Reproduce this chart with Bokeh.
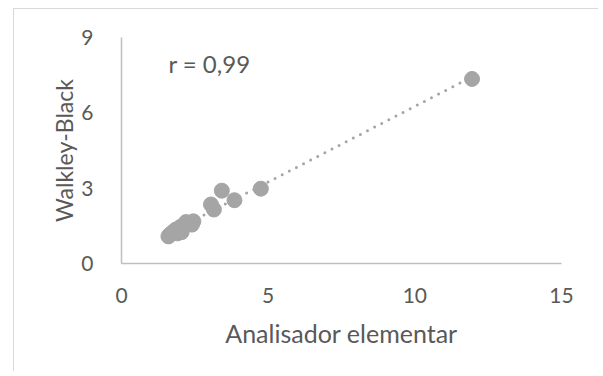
import numpy as np
from bokeh.plotting import figure
from bokeh.models import Range1d, FixedTicker, Label
from bokeh.embed import file_html
from bokeh.resources import INLINE

# Data (Analisador elementar vs Walkley-Black)
analisador = [1.6, 1.65, 1.75, 1.85, 1.9, 2.0, 2.05, 2.2, 2.4, 2.45, 3.05, 3.15, 3.42, 3.85, 4.75, 11.95]
walkley = [1.08, 1.15, 1.25, 1.35, 1.2, 1.45, 1.25, 1.65, 1.55, 1.68, 2.35, 2.15, 2.9, 2.52, 2.98, 7.35]
x_ticks = [0, 5, 10, 15]
y_ticks = [0, 3, 6, 9]
r_text = "r = 0,99"

GREY = "#A5A5A5"
TXT = "#595959"
FONT = "Lato"

p = figure(width=585, height=363, output_backend="svg", toolbar_location=None,
           x_range=Range1d(0, 15), y_range=Range1d(0, 9),
           min_border_left=107, min_border_right=38, min_border_top=28, min_border_bottom=109)
p.styles = {"margin-left": "13px", "margin-top": "8px",
            "border-left": "1px solid #D9D9D9", "border-top": "1px solid #D9D9D9"}
p.outline_line_color = None
p.grid.visible = False

# trend line from least-squares fit
coef = np.polyfit(analisador, walkley, 1)
xs = np.array([min(analisador), max(analisador)])
p.line(xs, np.polyval(coef, xs), line_color=GREY, line_width=3, line_dash="0 8", line_cap="round")

p.scatter(analisador, walkley, size=15, fill_color=GREY, line_color=GREY)

for ax in (p.xaxis[0], p.yaxis[0]):
    ax.axis_line_color = "#BFBFBF"
    ax.axis_line_width = 1.5
    ax.major_tick_line_color = None
    ax.minor_tick_line_color = None
    ax.major_label_text_color = TXT
    ax.major_label_text_font = FONT
    ax.major_label_text_font_size = "21px"
    ax.axis_label_text_color = TXT
    ax.axis_label_text_font = FONT
    ax.axis_label_text_font_style = "normal"

p.xaxis.axis_label_text_font_size = "25px"
p.yaxis.axis_label_text_font_size = "23px"
p.xaxis.ticker = FixedTicker(ticks=x_ticks)
p.yaxis.ticker = FixedTicker(ticks=y_ticks)
p.xaxis.axis_label = "Analisador elementar"
p.yaxis.axis_label = "Walkley-Black"
p.xaxis.major_label_standoff = 18
p.yaxis.major_label_standoff = 22
p.xaxis.axis_label_standoff = 12
p.yaxis.axis_label_standoff = 0

p.add_layout(Label(x=1.6, y=7.95, text=r_text, text_color=TXT, text_font=FONT,
                   text_font_size="24px", text_baseline="middle"))

open("out.html", "w").write(file_html(p, INLINE))
